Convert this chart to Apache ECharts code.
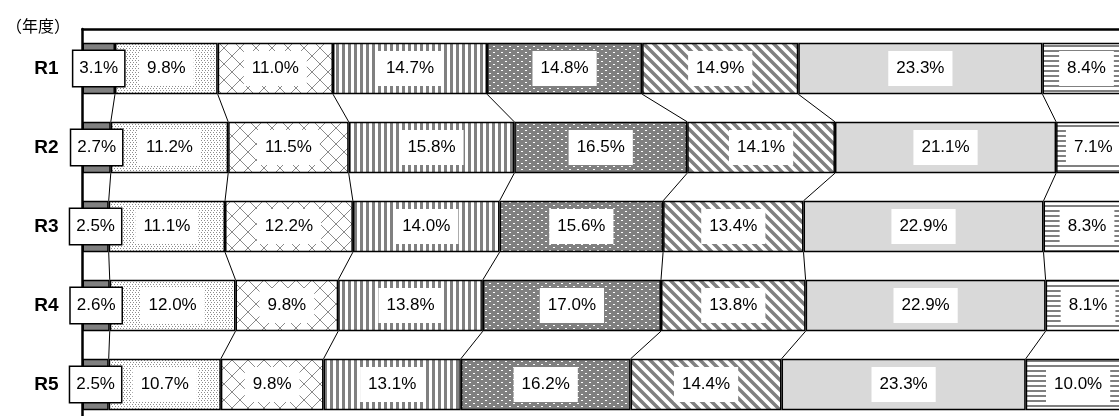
<!DOCTYPE html>
<html>
<head>
<meta charset="utf-8">
<script src="https://cdn.jsdelivr.net/npm/echarts@6/dist/echarts.min.js"></script>
<style>
  html, body { margin: 0; padding: 0; background: #fff; }
  #chart { width: 1119px; height: 416px; }
</style>
</head>
<body>
<div id="chart"></div>
<script>
// 年度
var years = ['R1', 'R2', 'R3', 'R4', 'R5']
// 各区分の割合 (%)
var part1 = [3.1, 2.7, 2.5, 2.6, 2.5]
var part2 = [9.8, 11.2, 11.1, 12.0, 10.7]
var part3 = [11.0, 11.5, 12.2, 9.8, 9.8]
var part4 = [14.7, 15.8, 14.0, 13.8, 13.1]
var part5 = [14.8, 16.5, 15.6, 17.0, 16.2]
var part6 = [14.9, 14.1, 13.4, 13.8, 14.4]
var part7 = [23.3, 21.1, 22.9, 22.9, 23.3]
var part8 = [8.4, 7.1, 8.3, 8.1, 10.0]
var parts = [part1, part2, part3, part4, part5, part6, part7, part8]

var GRAY = '#808080'
var BAR_RATIO = 0.65

// 模様のタイルを作る
function tile(w, h, draw) {
  var c = document.createElement('canvas')
  c.width = w
  c.height = h
  var ctx = c.getContext('2d')
  draw(ctx, w, h)
  return { image: c, repeat: 'repeat' }
}

var fills = [
  GRAY,
  // 細かい点
  tile(3, 4, function (ctx) {
    ctx.fillStyle = '#fff'; ctx.fillRect(0, 0, 3, 4)
    ctx.fillStyle = '#8c8c8c'; ctx.fillRect(0, 0, 1, 1); ctx.fillRect(1, 2, 1, 1)
  }),
  // 斜め格子
  tile(16, 16, function (ctx) {
    ctx.fillStyle = '#fff'; ctx.fillRect(0, 0, 16, 16)
    ctx.strokeStyle = '#8a8a8a'; ctx.lineWidth = 1
    ctx.beginPath()
    ctx.moveTo(0, 0); ctx.lineTo(16, 16)
    ctx.moveTo(16, 0); ctx.lineTo(0, 16)
    ctx.stroke()
  }),
  // 縦じま
  tile(6, 6, function (ctx) {
    ctx.fillStyle = '#fff'; ctx.fillRect(0, 0, 6, 6)
    ctx.fillStyle = GRAY; ctx.fillRect(0, 0, 3, 6)
  }),
  // 濃い灰色に白い点
  tile(8, 6, function (ctx) {
    ctx.fillStyle = GRAY; ctx.fillRect(0, 0, 8, 6)
    ctx.fillStyle = '#fff'; ctx.fillRect(1, 1, 2, 1); ctx.fillRect(5, 4, 2, 1)
  }),
  // 斜めじま
  tile(10, 10, function (ctx) {
    ctx.fillStyle = '#fff'; ctx.fillRect(0, 0, 10, 10)
    ctx.strokeStyle = GRAY; ctx.lineWidth = 3.5
    ctx.beginPath()
    ctx.moveTo(-5, -5); ctx.lineTo(15, 15)
    ctx.moveTo(-5, 5); ctx.lineTo(5, 15)
    ctx.moveTo(5, -5); ctx.lineTo(15, 5)
    ctx.stroke()
  }),
  '#d9d9d9',
  // 横じま
  tile(6, 5, function (ctx) {
    ctx.fillStyle = '#fff'; ctx.fillRect(0, 0, 6, 5)
    ctx.fillStyle = GRAY; ctx.fillRect(0, 0, 6, 2)
  })
]

var labelFont = '"Liberation Sans", Arial, sans-serif'

var series = parts.map(function (arr, k) {
  var label = {
    show: true,
    position: 'inside',
    color: '#000',
    fontFamily: labelFont,
    fontSize: 17,
    lineHeight: 17,
    backgroundColor: '#fff',
    padding: [9, 8],
    formatter: function (p) { return p.value.toFixed(1) + '%' }
  }
  if (k === 0) {
    label.borderColor = '#000'
    label.borderWidth = 1.5
    label.padding = [9, 6]
  }
  return {
    name: 'part' + (k + 1),
    type: 'bar',
    stack: 'total',
    barCategoryGap: '35%',
    data: arr,
    itemStyle: { color: fills[k], borderColor: '#000', borderWidth: 1.5 },
    label: label,
    z: k === 0 ? 5 : 2
  }
})

// 年度間をつなぐ線
var pairs = [[0, 0], [0, 1], [0, 2], [0, 3]]
series.push({
  type: 'custom',
  data: pairs,
  encode: { x: 0, y: 1 },
  z: 1,
  silent: true,
  renderItem: function (params, api) {
    var i = params.dataIndex
    var band = api.size([0, 1])[1]
    var half = band * BAR_RATIO / 2
    var children = []
    var cumA = 0
    var cumB = 0
    for (var k = 0; k < parts.length - 1; k++) {
      cumA += parts[k][i]
      cumB += parts[k][i + 1]
      var a = api.coord([cumA, i])
      var b = api.coord([cumB, i + 1])
      children.push({
        type: 'line',
        shape: { x1: a[0], y1: a[1] + half, x2: b[0], y2: b[1] - half },
        style: { stroke: '#000', lineWidth: 1 }
      })
    }
    return { type: 'group', children: children }
  }
})

var chart = echarts.init(document.getElementById('chart'))
chart.setOption({
  animation: false,
  grid: { left: 82.5, right: -11.5, top: 29, bottom: -8, outerBoundsMode: 'none' },
  graphic: [{
    type: 'text',
    left: 6,
    top: 18,
    style: { text: '（年度）', fontSize: 16, fontFamily: '"Noto Sans CJK JP", sans-serif', fill: '#000' }
  }],
  xAxis: {
    type: 'value',
    position: 'top',
    min: 0,
    max: 100,
    axisLine: { show: true, lineStyle: { color: '#000', width: 2.5 } },
    axisTick: { show: false },
    axisLabel: { show: false },
    splitLine: { show: false }
  },
  yAxis: {
    type: 'category',
    inverse: true,
    data: years,
    axisLine: { show: true, lineStyle: { color: '#000', width: 2.5 } },
    axisTick: { show: false },
    axisLabel: {
      color: '#000',
      fontSize: 19,
      fontWeight: 'bold',
      fontFamily: labelFont,
      margin: 24
    }
  },
  series: series
})
</script>
</body>
</html>
